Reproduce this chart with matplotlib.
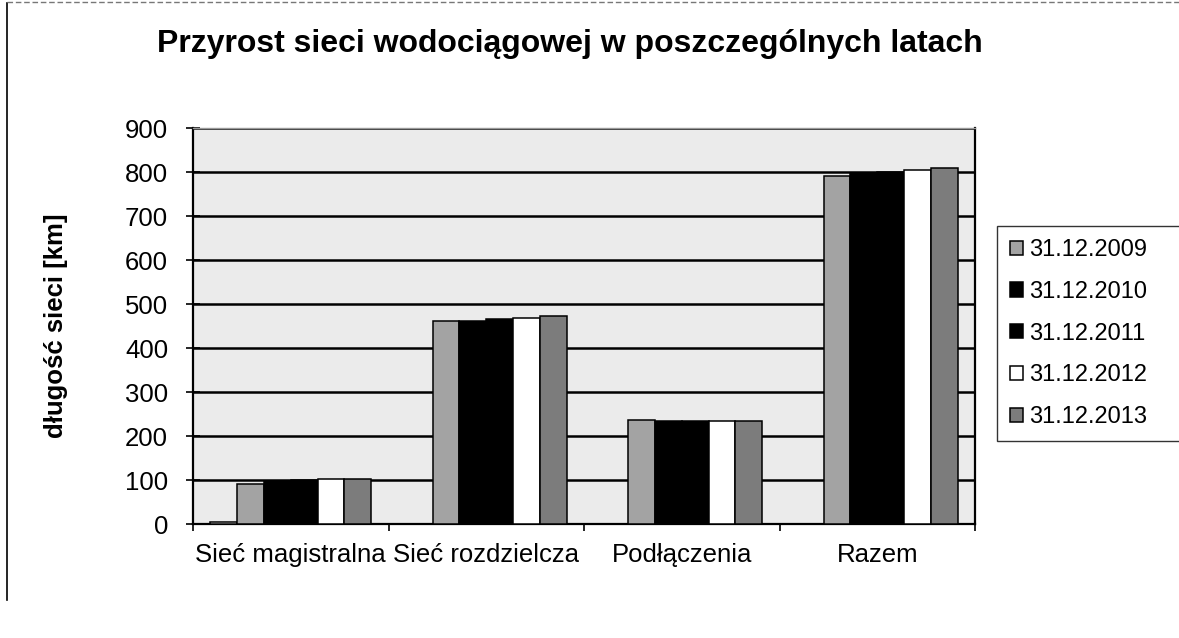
import matplotlib.pyplot as plt
import numpy as np
from matplotlib.lines import Line2D

plt.rcParams['font.family'] = ['Liberation Sans', 'DejaVu Sans']

# dane [km]
kategorie = ["Sieć magistralna", "Sieć rozdzielcza", "Podłączenia", "Razem"]
lata = ["31.12.2009", "31.12.2010", "31.12.2011", "31.12.2012", "31.12.2013"]
# pierwsza seria bez opisu w legendzie (prawie zerowa)
seria_0 = [4, 0, 0, 0]
v2009 = [92, 461, 236, 792]
v2010 = [98, 462, 235, 798]
v2011 = [99, 465, 235, 799]
v2012 = [103, 468, 235, 805]
v2013 = [103, 473, 235, 810]

serie = [seria_0, v2009, v2010, v2011, v2012, v2013]
etykiety = [None] + lata
kolory = ['white', '#a3a3a3', 'black', 'black', 'white', '#7c7c7c']

fig = plt.figure(figsize=(11.79, 6.38), dpi=100)
ax = fig.add_axes([193 / 1179, 1 - 524 / 638, 782 / 1179, 396 / 638])
ax.set_facecolor('#ebebeb')

x = np.arange(len(kategorie))
w = 0.137
for i, (vals, lab, col) in enumerate(zip(serie, etykiety, kolory)):
    ax.bar(x + (i - 2.5) * w, vals, width=w, color=col, edgecolor='black',
           linewidth=1.1, label=lab, zorder=3)

ax.set_xlim(-0.5, 3.5)
ax.set_ylim(0, 900)
ax.set_yticks(range(0, 901, 100))
ax.yaxis.grid(True, color='black', linewidth=1.8, zorder=1)
ax.set_axisbelow(True)

# podzialki x na granicach kategorii, opisy posrodku
ax.set_xticks(np.arange(-0.5, 4, 1))
ax.set_xticklabels([])
ax.set_xticks(x, minor=True)
ax.set_xticklabels(kategorie, minor=True, fontsize=18.5)
ax.tick_params(axis='x', which='major', direction='out', length=5, width=1.2)
ax.tick_params(axis='x', which='minor', length=0, pad=14)
ax.tick_params(axis='y', direction='inout', length=10, width=1.2,
               labelsize=18.5, pad=13)

for s in ['left', 'bottom', 'right']:
    ax.spines[s].set_color('black')
    ax.spines[s].set_linewidth(1.6)
ax.spines['top'].set_color('#999999')
ax.spines['top'].set_linewidth(1.0)

ax.set_ylabel("długość sieci [km]", fontsize=18.5, fontweight='bold')
ax.yaxis.set_label_coords(-125 / 782, 0.5)

fig.text(570 / 1179, 1 - 44 / 638, "Przyrost sieci wodociągowej w poszczególnych latach",
         ha='center', va='center', fontsize=23, fontweight='bold')

uchwyty, opisy = ax.get_legend_handles_labels()
leg = fig.legend(uchwyty, opisy, loc='upper left', mode='expand',
                 bbox_to_anchor=(997 / 1179, 1 - 432 / 638, 190 / 1179, 206 / 638),
                 fontsize=17, frameon=True, fancybox=False, edgecolor='black',
                 handlelength=0.55, handleheight=0.55, handletextpad=0.25,
                 labelspacing=0.84, borderpad=0.55, borderaxespad=0)
leg.get_frame().set_linewidth(1.0)

# ramka obszaru wykresu
fig.add_artist(Line2D([7 / 1179, 7 / 1179], [1 - 3 / 638, 1 - 600 / 638],
                      transform=fig.transFigure, color='black', linewidth=1.2))
fig.add_artist(Line2D([7 / 1179, 1.0], [1 - 2 / 638, 1 - 2 / 638],
                      transform=fig.transFigure, color='#777777', linewidth=1.0,
                      linestyle=(0, (4, 2))))

fig.savefig("out.png", dpi=100)
